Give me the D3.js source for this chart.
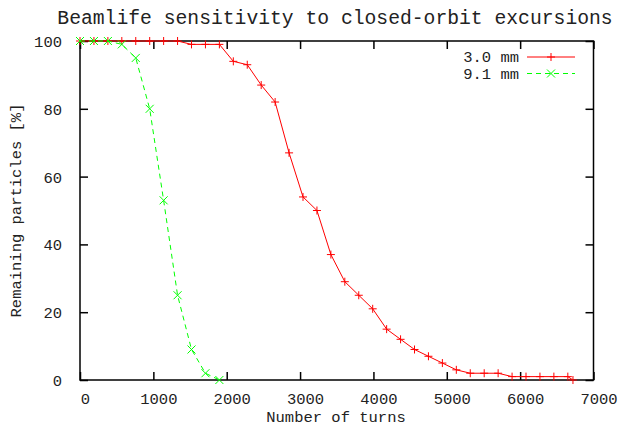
<!DOCTYPE html>
<html>
<head>
<meta charset="utf-8">
<script src="https://cdn.jsdelivr.net/npm/d3@7"></script>
<style>
  html, body { margin: 0; padding: 0; background: #fff; }
  svg { display: block; }
  text { font-family: "Liberation Mono", "DejaVu Sans Mono", monospace; fill: #222; }
</style>
</head>
<body>
<script>
// ---- data ----
const title = "Beamlife sensitivity to closed-orbit excursions";
const xLabel = "Number of turns";
const yLabel = "Remaining particles [%]";
const seriesNames = ["3.0 mm", "9.1 mm"];
const xTicks = [0, 1000, 2000, 3000, 4000, 5000, 6000, 7000];
const yTicks = [0, 20, 40, 60, 80, 100];

const turnsA = [0, 190, 380, 570, 760, 950, 1140, 1330, 1520, 1710, 1900, 2090, 2280, 2470, 2660,
  2850, 3040, 3230, 3420, 3610, 3800, 3990, 4180, 4370, 4560, 4750, 4940, 5130, 5320, 5510,
  5700, 5890, 6080, 6270, 6460, 6650, 6720];
const remainA = [100, 100, 100, 100, 100, 100, 100, 100, 99, 99, 99, 94, 93, 87, 82,
  67, 54, 50, 37, 29, 25, 21, 15, 12, 9, 7, 5, 3, 2, 2,
  2, 1, 1, 1, 1, 1, 0];
const turnsB = [0, 190, 380, 570, 760, 950, 1140, 1330, 1520, 1710, 1900];
const remainB = [100, 100, 100, 99, 95, 80, 53, 25, 9, 2, 0];

// ---- layout ----
const W = 619, H = 426;
const L = 80, R = 593.5, T = 41, B = 380;

const svg = d3.select("body").append("svg").attr("width", W).attr("height", H);

const x = d3.scaleLinear().domain([0, 7000]).range([L, R]);
const y = d3.scaleLinear().domain([0, 100]).range([B, T]);

const tickLen = 8;
const axisColor = "#000";

// axes (inward ticks, mirrored)
const gx = svg.append("g").attr("transform", `translate(0,${B})`)
  .call(d3.axisBottom(x).tickValues(xTicks).tickSize(-tickLen).tickPadding(13).tickFormat(d3.format("d")));
const gxt = svg.append("g").attr("transform", `translate(0,${T})`)
  .call(d3.axisTop(x).tickValues(xTicks).tickSize(-tickLen).tickFormat(""));
const gy = svg.append("g").attr("transform", `translate(${L},0)`)
  .call(d3.axisLeft(y).tickValues(yTicks).tickSize(-tickLen).tickPadding(18).tickFormat(d3.format("d")));
const gyr = svg.append("g").attr("transform", `translate(${R},0)`)
  .call(d3.axisRight(y).tickValues(yTicks).tickSize(-tickLen).tickFormat(""));

[gx, gxt, gy, gyr].forEach(g => {
  g.select(".domain").remove();
  g.selectAll(".tick line").attr("stroke", axisColor).attr("stroke-width", 1.5);
  g.selectAll("text").attr("font-size", 15.5).attr("fill", "#222")
    .attr("font-family", '"Liberation Mono", monospace');
});
gx.selectAll("text").attr("dx", 5);
gy.selectAll("text").attr("dy", "0.35em");

// border
svg.append("rect").attr("x", L).attr("y", T).attr("width", R - L).attr("height", B - T)
  .attr("fill", "none").attr("stroke", axisColor).attr("stroke-width", 1.5);

// title & labels
svg.append("text").attr("x", 335).attr("y", 24).attr("text-anchor", "middle")
  .attr("font-size", 19.7).text(title);
svg.append("text").attr("x", 336).attr("y", 422).attr("text-anchor", "middle")
  .attr("font-size", 15.5).text(xLabel);
svg.append("text").attr("transform", `translate(21,${(T + B) / 2}) rotate(-90)`)
  .attr("text-anchor", "middle").attr("font-size", 15.5).text(yLabel);

// series
const dataA = turnsA.map((t, i) => [t, remainA[i]]);
const dataB = turnsB.map((t, i) => [t, remainB[i]]);
const line = d3.line().x(d => x(d[0])).y(d => y(d[1]));

const red = "#ff0000", green = "#00ff00";
const ms = 4;

function plus(g, cx, cy, color) {
  g.append("path").attr("d", `M${cx - ms},${cy}H${cx + ms}M${cx},${cy - ms}V${cy + ms}`)
    .attr("stroke", color).attr("stroke-width", 1).attr("fill", "none");
}
function cross(g, cx, cy, color) {
  g.append("path").attr("d", `M${cx - ms},${cy - ms}L${cx + ms},${cy + ms}M${cx - ms},${cy + ms}L${cx + ms},${cy - ms}`)
    .attr("stroke", color).attr("stroke-width", 1).attr("fill", "none");
}

const gA = svg.append("g");
gA.append("path").datum(dataA).attr("d", line).attr("fill", "none").attr("stroke", red).attr("stroke-width", 1);
dataA.forEach(d => plus(gA, x(d[0]), y(d[1]), red));

const gB = svg.append("g");
gB.append("path").datum(dataB).attr("d", line).attr("fill", "none").attr("stroke", green)
  .attr("stroke-width", 1).attr("stroke-dasharray", "5,4");
dataB.forEach(d => cross(gB, x(d[0]), y(d[1]), green));

// legend
const lg = svg.append("g");
const legY = [57, 73.5];
const colors = [red, green];
seriesNames.forEach((name, i) => {
  lg.append("text").attr("x", 519).attr("y", legY[i]).attr("dy", "0.35em").attr("text-anchor", "end")
    .attr("font-size", 15.5).text(name);
  const ln = lg.append("line").attr("x1", 527).attr("x2", 575).attr("y1", legY[i]).attr("y2", legY[i])
    .attr("stroke", colors[i]).attr("stroke-width", 1);
  if (i === 1) ln.attr("stroke-dasharray", "5,4");
  if (i === 0) plus(lg, 551, legY[i], colors[i]); else cross(lg, 551, legY[i], colors[i]);
});
</script>
</body>
</html>
